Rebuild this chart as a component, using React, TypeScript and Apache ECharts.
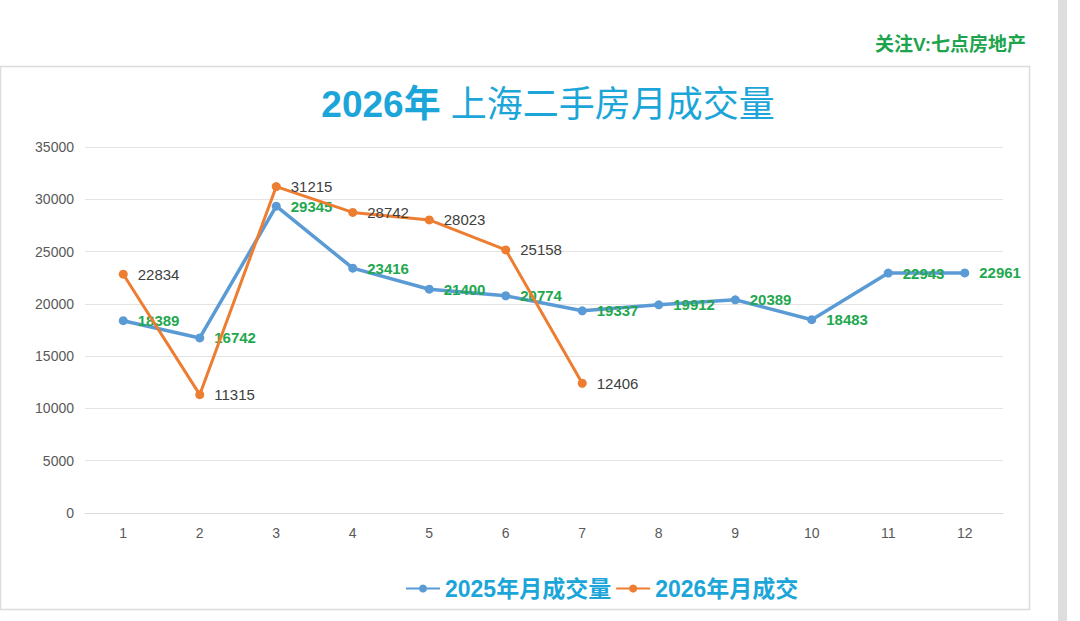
import React, { useEffect, useRef } from "react";
import * as echarts from "echarts";

const months = ["1", "2", "3", "4", "5", "6", "7", "8", "9", "10", "11", "12"];
const sales2025 = [18389, 16742, 29345, 23416, 21400, 20774, 19337, 19912, 20389, 18483, 22943, 22961];
const sales2026 = [22834, 11315, 31215, 28742, 28023, 25158, 12406];
const yTicks = { min: 0, max: 35000, interval: 5000 };
const titleYear = "2026年";
const titleRest = " 上海二手房月成交量";
const seriesNames = ["2025年月成交量", "2026年月成交"];
const watermark = "关注V:七点房地产";

export default function App() {
  const ref = useRef<HTMLDivElement>(null);
  useEffect(() => {
    if (!ref.current) return;
    const chart = echarts.init(ref.current, null, { renderer: "svg" });
    const font = "Arial, 'Liberation Sans', 'Noto Sans CJK SC', sans-serif";
    chart.setOption({
      animation: false,
      backgroundColor: "#ffffff",
      textStyle: { fontFamily: font },
      graphic: [
        {
          type: "rect",
          shape: { x: 0.5, y: 66.5, width: 1029, height: 543 },
          style: { fill: "#ffffff", stroke: "#dcdcdc", lineWidth: 1.5 },
          z: -10,
        },
        {
          type: "rect",
          shape: { x: 1058, y: 0, width: 9, height: 621 },
          style: { fill: "#dedede" },
          z: -10,
        },
        {
          type: "text",
          right: 54,
          top: 35,
          style: {
            text: watermark,
            fill: "#1ea44e",
            font: `bold 19px ${font}`,
          },
        },
      ],
      title: {
        text: `{a|${titleYear}}{b|${titleRest}}`,
        left: 543,
        textAlign: "center",
        top: 81,
        textStyle: {
          rich: {
            a: { fontSize: 37, fontWeight: "bold", color: "#1ba5d8", fontFamily: font },
            b: { fontSize: 36, fontWeight: "normal", color: "#1ba5d8", fontFamily: font },
          },
        },
      },
      legend: {
        data: seriesNames,
        left: 400,
        top: 572,
        itemWidth: 34,
        itemHeight: 10,
        itemGap: 4,
        textStyle: { color: "#1ba5d8", fontSize: 23, fontWeight: "bold", fontFamily: font },
      },
      grid: { left: 85, right: 77, top: 147, bottom: 108 },
      xAxis: {
        type: "category",
        data: months,
        boundaryGap: true,
        axisLine: { lineStyle: { color: "#d9d9d9" } },
        axisTick: { show: false },
        axisLabel: { color: "#595959", fontSize: 14, margin: 13 },
      },
      yAxis: {
        type: "value",
        min: yTicks.min,
        max: yTicks.max,
        interval: yTicks.interval,
        axisLine: { show: false },
        axisTick: { show: false },
        axisLabel: { color: "#595959", fontSize: 14, margin: 11, formatter: (v: number) => String(v) },
        splitLine: { lineStyle: { color: "#e3e3e3" } },
      },
      series: [
        {
          name: seriesNames[0],
          type: "line",
          data: sales2025,
          symbol: "circle",
          symbolSize: 9,
          itemStyle: { color: "#5b9bd5" },
          lineStyle: { width: 3.5, color: "#5b9bd5" },
          label: {
            show: true,
            position: "right",
            distance: 10,
            color: "#1fa84f",
            fontSize: 15,
            fontWeight: "bold",
          },
          z: 2,
        },
        {
          name: seriesNames[1],
          type: "line",
          data: sales2026,
          symbol: "circle",
          symbolSize: 9,
          itemStyle: { color: "#ed7d31" },
          lineStyle: { width: 3, color: "#ed7d31" },
          label: {
            show: true,
            position: "right",
            distance: 10,
            color: "#404040",
            fontSize: 15,
          },
          z: 3,
        },
      ],
    });
    return () => chart.dispose();
  }, []);
  return (
    <div
      ref={ref}
      style={{ position: "fixed", left: 0, top: 0, width: 1080, height: 621 }}
    />
  );
}
